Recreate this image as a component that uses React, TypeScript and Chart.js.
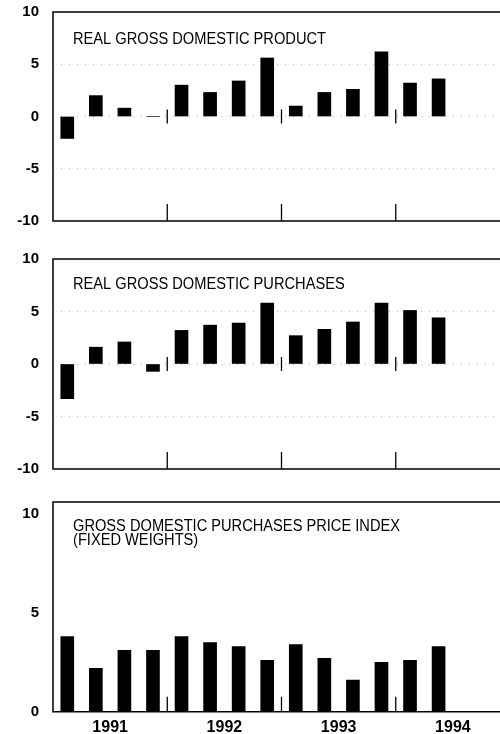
import React, { useEffect, useRef } from 'react';
import { Chart, registerables } from 'chart.js';

Chart.register(...registerables);

const FONT = "'Liberation Sans', Arial, Helvetica, sans-serif";

// 16 quarters on the axis, data through 1994 Q2
const quarters = [
  '1991 Q1', '1991 Q2', '1991 Q3', '1991 Q4',
  '1992 Q1', '1992 Q2', '1992 Q3', '1992 Q4',
  '1993 Q1', '1993 Q2', '1993 Q3', '1993 Q4',
  '1994 Q1', '1994 Q2', '1994 Q3', '1994 Q4',
];
const years = ['1991', '1992', '1993', '1994'];
const yearCenters = [2, 6, 10, 14];
const yearBoundaries = [4, 8, 12];

const realGDP = [-2.1, 2.0, 0.8, 0.0, 3.0, 2.3, 3.4, 5.6, 1.0, 2.3, 2.6, 6.2, 3.2, 3.6];
const realPurchases = [-3.3, 1.6, 2.1, -0.7, 3.2, 3.7, 3.9, 5.8, 2.7, 3.3, 4.0, 5.8, 5.1, 4.4];
const priceIndex = [3.8, 2.2, 3.1, 3.1, 3.8, 3.5, 3.3, 2.6, 3.4, 2.7, 1.6, 2.5, 2.6, 3.3];

const title1 = ['REAL GROSS DOMESTIC PRODUCT'];
const title2 = ['REAL GROSS DOMESTIC PURCHASES'];
const title3 = ['GROSS DOMESTIC PURCHASES PRICE INDEX', '(FIXED WEIGHTS)'];

const signedTicks = [-10, -5, 0, 5, 10];
const positiveTicks = [0, 5, 10];

type PanelProps = {
  top: number;
  height: number;
  padTop: number;
  padBottom: number;
  values: number[];
  titleLines: string[];
  titleBaselines: number[];
  yMin: number;
  yMax: number;
  yTicks: number[];
  gridValues: number[];
  showYears: boolean;
  zeroTicks: boolean;
  bottomTickLen: number;
};

function Panel(p: PanelProps) {
  const ref = useRef<HTMLCanvasElement | null>(null);

  useEffect(() => {
    if (!ref.current) return;

    const decor = {
      id: 'decor',
      afterDatasetsDraw(chart: any) {
        const { ctx, chartArea } = chart;
        const { left, right, top, bottom } = chartArea;
        const xs = chart.scales.x;
        const ys = chart.scales.y;
        ctx.save();
        // frame
        ctx.strokeStyle = '#000';
        ctx.lineWidth = 1.5;
        ctx.beginPath();
        ctx.moveTo(right, top);
        ctx.lineTo(left, top);
        ctx.lineTo(left, bottom);
        ctx.lineTo(right, bottom);
        ctx.lineTo(right, top);
        ctx.stroke();
        // year boundary ticks
        ctx.lineWidth = 1.3;
        const zeroY = ys.getPixelForValue(0);
        yearBoundaries.forEach((b) => {
          const x = (xs.getPixelForValue(b - 1) + xs.getPixelForValue(b)) / 2;
          ctx.beginPath();
          ctx.moveTo(x, bottom);
          ctx.lineTo(x, bottom - p.bottomTickLen);
          ctx.stroke();
          if (p.zeroTicks) {
            ctx.beginPath();
            ctx.moveTo(x, zeroY - 7);
            ctx.lineTo(x, zeroY + 7);
            ctx.stroke();
          }
        });
        // title
        ctx.fillStyle = '#000';
        ctx.font = `16px ${FONT}`;
        ctx.textBaseline = 'alphabetic';
        ctx.textAlign = 'left';
        p.titleLines.forEach((line, i) => {
          ctx.save();
          ctx.translate(left + 20, top + p.titleBaselines[i]);
          ctx.scale(0.915, 1);
          ctx.fillText(line, 0, 0);
          ctx.restore();
        });
        ctx.restore();
      },
    };

    const scales: any = {
      x: {
        type: 'category',
        display: false,
        offset: true,
        grid: { display: false },
      },
      y: {
        min: p.yMin,
        max: p.yMax,
        position: 'left',
        afterFit: (s: any) => {
          s.width = 53;
        },
        afterBuildTicks: (s: any) => {
          s.ticks = p.yTicks.map((v) => ({ value: v }));
        },
        ticks: {
          padding: 0,
          color: '#000',
          font: { family: FONT, size: 15, weight: 'bold' },
        },
        grid: {
          drawTicks: true,
          tickLength: 14,
          tickColor: 'transparent',
          lineWidth: 1,
          color: (c: any) =>
            c.tick && p.gridValues.includes(c.tick.value) ? 'rgba(0,0,0,0.28)' : 'transparent',
        },
        border: { display: false, dash: [1, 7] },
      },
    };
    if (p.showYears) {
      scales.x2 = {
        type: 'linear',
        position: 'bottom',
        offset: false,
        min: 0,
        max: quarters.length,
        afterBuildTicks: (s: any) => {
          s.ticks = yearCenters.map((v) => ({ value: v }));
        },
        ticks: {
          autoSkip: false,
          maxRotation: 0,
          padding: 6,
          color: '#000',
          font: { family: FONT, size: 16, weight: 'bold' },
          callback: (v: any) => years[yearCenters.indexOf(Number(v))],
        },
        grid: { display: false, drawTicks: false, offset: false },
        border: { display: false },
      };
    }

    const chart = new Chart(ref.current, {
      type: 'bar',
      data: {
        labels: quarters,
        datasets: [
          {
            data: p.values,
            backgroundColor: '#000',
            borderWidth: 0,
            barThickness: 13,
            xAxisID: 'x',
            yAxisID: 'y',
          },
        ],
      },
      options: {
        responsive: false,
        animation: false,
        devicePixelRatio: 1,
        layout: { padding: { top: p.padTop, bottom: p.padBottom, left: 0, right: 10 } },
        plugins: {
          legend: { display: false },
          tooltip: { enabled: false },
          title: { display: false },
        },
        scales,
      },
      plugins: [decor],
    } as any);

    return () => chart.destroy();
  }, []);

  return (
    <canvas
      ref={ref}
      width={520}
      height={p.height}
      style={{ position: 'absolute', left: 0, top: p.top, display: 'block' }}
    />
  );
}

export default function App() {
  return (
    <div
      style={{
        position: 'absolute',
        left: 0,
        top: 0,
        width: 500,
        height: 734,
        overflow: 'hidden',
        background: '#fff',
      }}
    >
      <Panel
        top={0}
        height={240}
        padTop={12}
        padBottom={19}
        values={realGDP}
        titleLines={title1}
        titleBaselines={[32]}
        yMin={-10}
        yMax={10}
        yTicks={signedTicks}
        gridValues={[-5, 0, 5]}
        showYears={false}
        zeroTicks={true}
        bottomTickLen={17}
      />
      <Panel
        top={240}
        height={250}
        padTop={19}
        padBottom={21}
        values={realPurchases}
        titleLines={title2}
        titleBaselines={[30]}
        yMin={-10}
        yMax={10}
        yTicks={signedTicks}
        gridValues={[-5, 0, 5]}
        showYears={false}
        zeroTicks={true}
        bottomTickLen={17}
      />
      <Panel
        top={490}
        height={256}
        padTop={12}
        padBottom={3}
        values={priceIndex}
        titleLines={title3}
        titleBaselines={[28.5, 43]}
        yMin={0}
        yMax={10.6}
        yTicks={positiveTicks}
        gridValues={[]}
        showYears={true}
        zeroTicks={false}
        bottomTickLen={15}
      />
    </div>
  );
}
